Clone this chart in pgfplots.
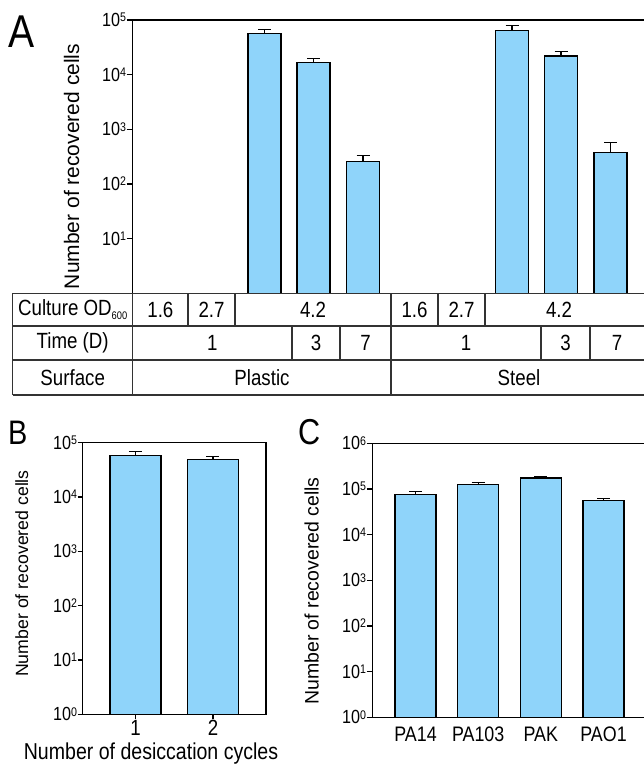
\documentclass[border=0pt]{standalone}
\usepackage{pgfplots}
\pgfplotsset{compat=1.18}
\usepackage{fontspec}
\setmainfont{Liberation Sans}[FakeStretch=0.85]
\newfontfamily\rotfont{Liberation Sans}
\definecolor{barblue}{HTML}{8FD4FA}
\definecolor{tabline}{HTML}{333333}
\newcommand{\fs}[1]{\fontsize{#1}{#1}\selectfont}
\newcommand{\pw}[1]{10\raisebox{0.25em}{\fs{12.5}#1}}

\begin{document}
\begin{tikzpicture}
\useasboundingbox (0pt,0pt) rectangle (644pt,764pt);

% ---------------- Panel A ----------------
\begin{axis}[
  scale only axis, anchor=south west, ymode=log, ybar, ymin=1,
  axis line style={line width=1.1pt, black},
  tick style={line width=1.1pt, black},
  tick align=outside, major tick length=6pt, yminorticks=false,
  ytick pos=left, clip=false,
  at={(132.7pt,470.7pt)}, width=511.3pt, height=273.3pt,
  xmin=132.7, xmax=644, ymax=1e5,
  axis x line*=box, axis y line*=left,
  xtick=\empty,
  ytick={10,100,1000,10000,100000},
  yticklabels={\pw{1},\pw{2},\pw{3},\pw{4},\pw{5}},
  yticklabel style={font=\fs{19}, inner xsep=0.5pt},
  bar width=33pt,
]
\addplot[fill=barblue, draw=black, line width=1.1pt,
  error bars/.cd, y dir=plus, y explicit,
  error bar style={line width=1.1pt, black},
  error mark options={rotate=90, mark size=6.5pt, line width=1.1pt, black}]
 coordinates {
  (264.5,57000) +- (0,10000)
  (313.5,16500) +- (0,3500)
  (363,262) +- (0,75)
  (512,64000) +- (0,15000)
  (561,21900) +- (0,4400)
  (610.5,378) +- (0,197)
};
\end{axis}
\node[font=\fs{46}, anchor=base west, inner sep=0] at (8pt,716pt) {A};
\node[font=\rotfont\fs{21}, rotate=90] at (71.7pt,597.5pt) {Number of recovered cells};

% table
\begin{scope}[line width=1.2pt]
\draw[tabline] (12.7pt,470.7pt) -- (644pt,470.7pt);
\draw[tabline] (12.7pt,438pt) -- (644pt,438pt);
\draw[tabline] (12.7pt,404pt) -- (644pt,404pt);
\draw[tabline] (12.7pt,369pt) -- (644pt,369pt);
\draw[tabline] (12.7pt,470.7pt) -- (12.7pt,369pt);
\draw[tabline] (132.7pt,470.7pt) -- (132.7pt,369pt);
\draw[tabline] (391pt,470.7pt) -- (391pt,369pt);
\foreach \xx in {188,235,438,485} \draw[tabline] (\xx pt,470.7pt) -- (\xx pt,438pt);
\foreach \xx in {292,340,541,590} \draw[tabline] (\xx pt,438pt) -- (\xx pt,404pt);
\end{scope}
\begin{scope}[every node/.style={font=\fs{22}, inner sep=0}]
\node at (72.7pt,454.3pt) {Culture OD\raisebox{-0.15em}{\fs{11}600}};
\node at (160.4pt,454.3pt) {1.6};
\node at (211.5pt,454.3pt) {2.7};
\node at (313pt,454.3pt) {4.2};
\node at (414.5pt,454.3pt) {1.6};
\node at (461.5pt,454.3pt) {2.7};
\node at (559pt,454.3pt) {4.2};
\node at (72.7pt,421pt) {Time (D)};
\node at (212.4pt,421pt) {1};
\node at (316pt,421pt) {3};
\node at (365.5pt,421pt) {7};
\node at (466pt,421pt) {1};
\node at (565.5pt,421pt) {3};
\node at (617pt,421pt) {7};
\node at (72.7pt,386.5pt) {Surface};
\node at (262pt,386.5pt) {Plastic};
\node at (519pt,386.5pt) {Steel};
\end{scope}

% ---------------- Panel B ----------------
\begin{axis}[
  scale only axis, anchor=south west, ymode=log, ybar, ymin=1,
  axis line style={line width=1.1pt, black},
  tick style={line width=1.1pt, black},
  tick align=outside, major tick length=5pt, yminorticks=false,
  ytick pos=left, clip=false,
  at={(82.7pt,49.7pt)}, width=183.3pt, height=271.6pt,
  xmin=0.319, xmax=2.684, ymax=1e5,
  xtick={1,2}, xticklabels={1,2}, xtick pos=bottom,
  xticklabel style={font=\fs{22}, inner ysep=1pt},
  ytick={1,10,100,1000,10000,100000},
  yticklabels={\pw{0},\pw{1},\pw{2},\pw{3},\pw{4},\pw{5}},
  yticklabel style={font=\fs{19}, inner xsep=0.5pt},
  bar width=51pt,
]
\addplot[fill=barblue, draw=black, line width=1.1pt,
  error bars/.cd, y dir=plus, y explicit,
  error bar style={line width=1.1pt, black},
  error mark options={rotate=90, mark size=6.5pt, line width=1.1pt, black}]
 coordinates {
  (1,58000) +- (0,11000)
  (2,50000) +- (0,6000)
};
\end{axis}
\node[font=\fs{34}, anchor=base west, inner sep=0] at (8pt,319pt) {B};
\node[font=\rotfont\fs{17.7}, rotate=90] at (21.7pt,190.5pt) {Number of recovered cells};
\node[font=\fs{23}, inner sep=0] at (151pt,10pt) {Number of desiccation cycles};

% ---------------- Panel C ----------------
\begin{axis}[
  scale only axis, anchor=south west, ymode=log, ybar, ymin=1,
  axis line style={line width=1.1pt, black},
  tick style={line width=1.1pt, black},
  tick align=outside, major tick length=6pt, yminorticks=false,
  ytick pos=left, clip=false,
  at={(372.7pt,46.7pt)}, width=271.3pt, height=274pt,
  xmin=0.317, xmax=4.646, ymax=1e6,
  axis x line*=box, axis y line*=left,
  xtick={1,2,3,4}, xticklabels={PA14,PA103,PAK,PAO1},
  xtick pos=bottom, x tick style={draw=none},
  xticklabel style={font=\fs{21}},
  ytick={1,10,100,1000,10000,100000,1000000},
  yticklabels={\pw{0},\pw{1},\pw{2},\pw{3},\pw{4},\pw{5},\pw{6}},
  yticklabel style={font=\fs{19}, inner xsep=0.5pt},
  bar width=41pt,
]
\addplot[fill=barblue, draw=black, line width=1.1pt,
  error bars/.cd, y dir=plus, y explicit,
  error bar style={line width=1.1pt, black},
  error mark options={rotate=90, mark size=6.5pt, line width=1.1pt, black}]
 coordinates {
  (1,76000) +- (0,11000)
  (2,128000) +- (0,10000)
  (3,174000) +- (0,12000)
  (4,56000) +- (0,7000)
};
\end{axis}
\node[font=\fs{36}, anchor=base west, inner sep=0] at (298pt,319pt) {C};
\node[font=\rotfont\fs{19.5}, rotate=90] at (311.7pt,173pt) {Number of recovered cells};

\end{tikzpicture}
\end{document}
